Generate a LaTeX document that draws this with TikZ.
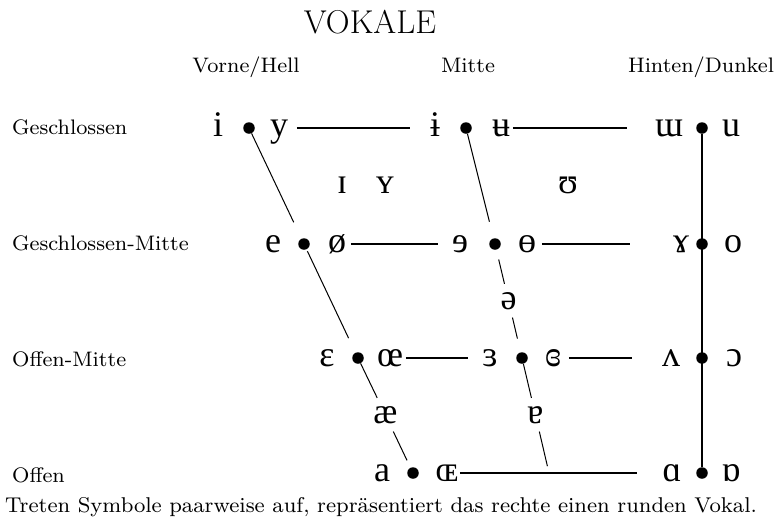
\documentclass[tikz,border=0pt]{standalone}
\usepackage{fontspec}
\newfontfamily\ipa{Liberation Serif}
\newfontfamily\lblfont{lmroman8-regular}[Extension=.otf]
\begin{document}
\begin{tikzpicture}[x=1pt,y=-1pt,
  sym/.style={font=\ipa\fontsize{36}{40}\selectfont, inner sep=0pt, anchor=base},
  midsym/.style={sym, inner xsep=2pt, inner ysep=8pt},
  dot/.style={circle, fill=black, inner sep=0pt, minimum size=11.5pt},
  smalltext/.style={font=\lblfont\fontsize{21}{25}\selectfont, inner sep=0pt},
  rowlbl/.style={smalltext, anchor=base west},
  colhead/.style={smalltext, anchor=base},
  slant/.style={line width=1pt},
  rowline/.style={line width=1.8pt},
  heavy/.style={line width=2.8pt}]
\useasboundingbox (0,0) rectangle (777,523);

% title and headings
\node[font=\fontsize{33}{38}\selectfont, anchor=base, inner sep=0pt] (title) at (370,33) {VOKALE};
\node[colhead] (hfront) at (246,72) {Vorne/Hell};
\node[colhead] (hcentral) at (468,72) {Mitte};
\node[colhead] (hback) at (701,72) {Hinten/Dunkel};

\node[rowlbl] (lclose) at (12,134) {Geschlossen};
\node[rowlbl] (lclosemid) at (12,250) {Geschlossen-Mitte};
\node[rowlbl] (lopenmid) at (12,366) {Offen-Mitte};
\node[rowlbl] (lopen) at (12,482) {Offen};

% dots
\node[dot] (d11) at (249,128) {};
\node[dot] (d12) at (466,128) {};
\node[dot] (d13) at (702,128) {};
\node[dot] (d21) at (304,244) {};
\node[dot] (d22) at (495,244) {};
\node[dot] (d23) at (702,244) {};
\node[dot] (d31) at (358,358) {};
\node[dot] (d32) at (522,358) {};
\node[dot] (d33) at (702,358) {};
\node[dot] (d41) at (413,473) {};
\node[dot] (d43) at (702,473) {};
\coordinate (cb) at (549,473);

% close vowels
\node[sym] (vi) at (218,136) {i};
\node[sym] (vy) at (279,136) {y};
\node[sym] (vibar) at (435,136) {ɨ};
\node[sym] (vubar) at (501,136) {ʉ};
\node[sym] (vturnm) at (669,136) {ɯ};
\node[sym] (vu) at (731,136) {u};
% near-close
\node[sym] (vsmI) at (342,193) {ɪ};
\node[sym] (vsmY) at (385,193) {ʏ};
\node[sym] (vupsilon) at (568,193) {ʊ};
% close-mid
\node[sym] (ve) at (273,252) {e};
\node[sym] (voslash) at (337,252) {ø};
\node[sym] (vreve) at (460,252) {ɘ};
\node[sym] (vbaro) at (527,252) {ɵ};
\node[sym] (vramshorn) at (681,252) {ɤ};
\node[sym] (vo) at (733,252) {o};
% mid
\node[midsym] (vschwa) at (508.5,309) {ə};
% open-mid
\node[sym] (veps) at (327,366) {ɛ};
\node[sym] (voe) at (390,366) {œ};
\node[sym] (vreveps) at (490,366) {ɜ};
\node[sym] (vclreveps) at (553,366) {ɞ};
\node[sym] (vturnv) at (671,366) {ʌ};
\node[sym] (vopeno) at (734,366) {ɔ};
% near-open
\node[midsym] (vae) at (385.3,423) {æ};
\node[midsym] (vturna) at (535.4,423) {ɐ};
% open
\node[sym] (va) at (382,481) {a};
\node[sym] (vOE) at (447,481) {ɶ};
\node[sym] (vscripta) at (672,481) {ɑ};
\node[sym] (vturnscripta) at (731,481) {ɒ};

% horizontal rows
\draw[rowline, shorten <=42pt, shorten >=50pt] (d11) -- (d12);
\draw[rowline, shorten <=41pt, shorten >=69pt] (d12) -- (d13);
\draw[rowline, shorten <=41pt, shorten >=51pt] (d21) -- (d22);
\draw[rowline, shorten <=41pt, shorten >=66pt] (d22) -- (d23);
\draw[rowline, shorten <=42pt, shorten >=48pt] (d31) -- (d32);
\draw[rowline, shorten <=41pt, shorten >=64pt] (d32) -- (d33);
\draw[heavy, shorten <=41pt, shorten >=59pt] (d41) -- (d43);

% back edge
\draw[heavy] (d13) -- (d43);

% front edge
\draw[slant, shorten >=18pt] (d11) -- (d21);
\draw[slant, shorten <=2pt, shorten >=16pt] (d21) -- (d31);
\draw[slant] (d31) -- (vae);
\draw[slant, shorten >=8pt] (vae) -- (d41);

% central edge
\draw[slant, shorten >=17pt] (d12) -- (d22);
\draw[slant, shorten <=10pt] (d22) -- (vschwa);
\draw[slant, shorten >=14pt] (vschwa) -- (d32);
\draw[slant] (d32) -- (vturna);
\draw[slant, shorten >=7pt] (vturna) -- (cb);

% note
\node[font=\lblfont\fontsize{21.4}{25}\selectfont, inner sep=0pt, anchor=base west] (note) at (5,512) {Treten Symbole paarweise auf, repräsentiert das rechte einen runden Vokal.};
\end{tikzpicture}
\end{document}
